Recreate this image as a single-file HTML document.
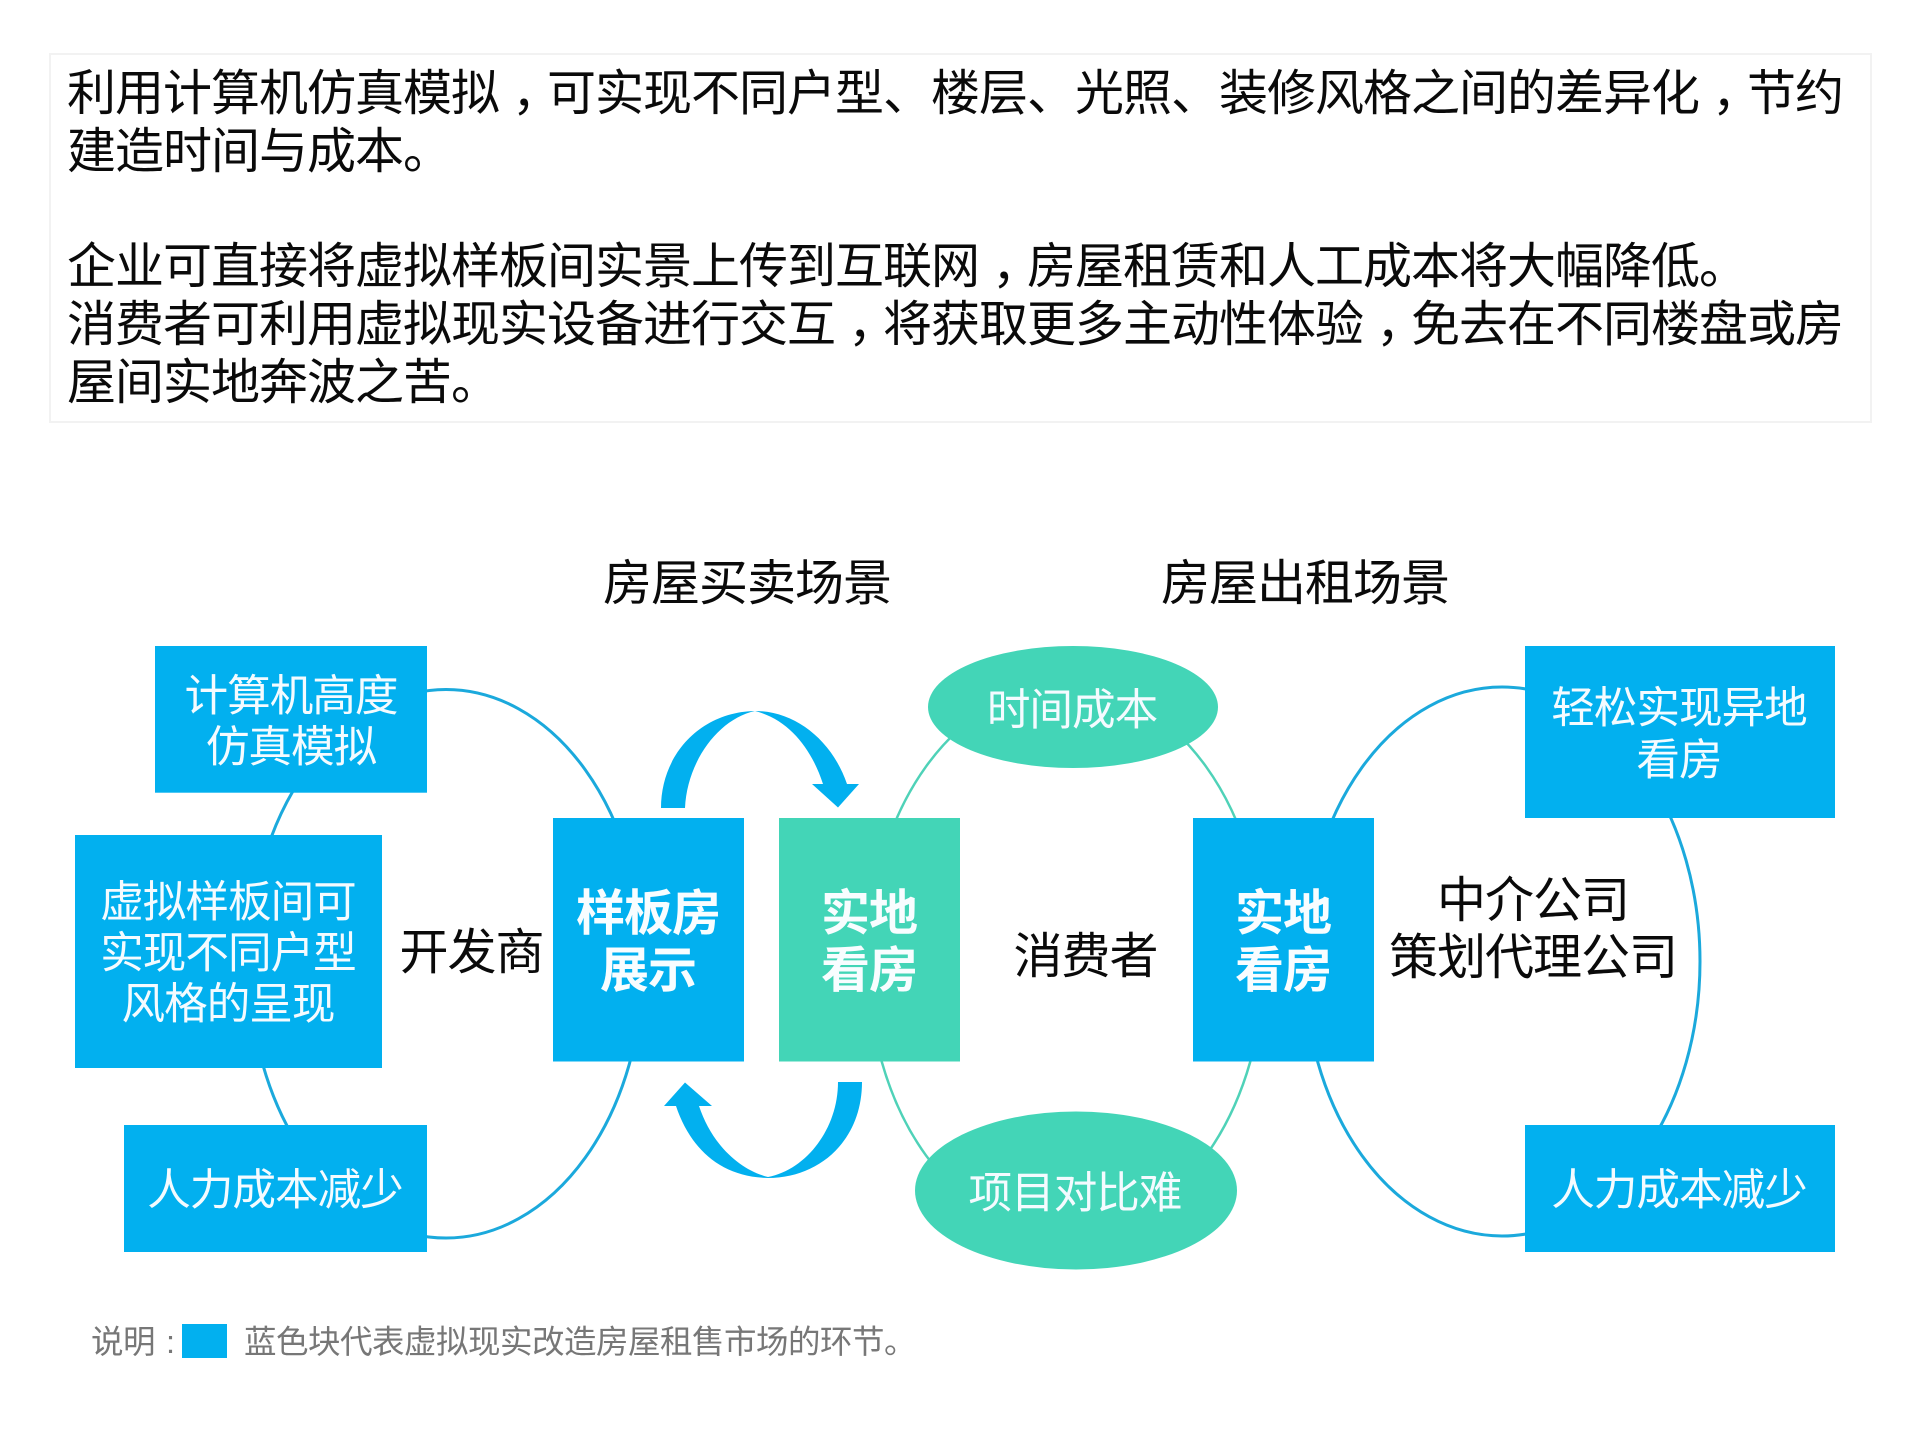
<!DOCTYPE html>
<html><head><meta charset="utf-8"><style>
html,body{margin:0;padding:0;background:#fff;width:1920px;height:1440px;overflow:hidden}
svg{display:block}
text{font-family:"Liberation Sans","Noto Sans CJK SC",sans-serif}
.t{font-size:49px;letter-spacing:-1px;fill:#0a0a0a}
.w{font-size:43.6px;letter-spacing:-1px;fill:#f4fbff;text-anchor:middle}
.b{font-size:49px;letter-spacing:-1px;fill:#f8fdff;font-weight:700;text-anchor:middle}
.k{font-size:49px;letter-spacing:-1px;fill:#0a0a0a;text-anchor:middle}
.g{font-size:32.5px;letter-spacing:-.5px;fill:#777}
</style></head><body>
<svg width="1920" height="1440" viewBox="0 0 1920 1440" xmlns="http://www.w3.org/2000/svg">
<rect x="0" y="0" width="1920" height="1440" fill="#fff"/>
<rect x="50" y="54" width="1821" height="368" fill="#fff" stroke="#f2f2f2" stroke-width="2"/>
<text class="t" y="110"><tspan x="67">利用计算机仿真模拟</tspan><tspan x="512">，</tspan><tspan x="547">可实现不同户型、楼层、光照、装修风格之间的差异化</tspan><tspan x="1712">，</tspan><tspan x="1747">节约</tspan></text>
<text class="t" x="67" y="168">建造时间与成本。</text>
<text class="t" y="283"><tspan x="67">企业可直接将虚拟样板间实景上传到互联网</tspan><tspan x="992">，</tspan><tspan x="1027">房屋租赁和人工成本将大幅降低。</tspan></text>
<text class="t" y="341"><tspan x="67">消费者可利用虚拟现实设备进行交互</tspan><tspan x="848">，</tspan><tspan x="883">将获取更多主动性体验</tspan><tspan x="1376">，</tspan><tspan x="1411">免去在不同楼盘或房</tspan></text>
<text class="t" x="67" y="399">屋间实地奔波之苦。</text>

<text class="t" x="603" y="600">房屋买卖场景</text>
<text class="t" x="1161" y="600">房屋出租场景</text>

<ellipse cx="446" cy="963.750" rx="197" ry="274.250" fill="none" stroke="#1ba9dc" stroke-width="3"/>
<ellipse cx="1502" cy="961.500" rx="198" ry="274.500" fill="none" stroke="#1ba9dc" stroke-width="3"/>
<ellipse cx="1066" cy="961" rx="198" ry="275" fill="none" stroke="#4fd2b8" stroke-width="2.500"/>

<path d="M661 808 C661 755 700 712 755 711 C795 711 832 740 847 784 L859 784 L838 807.500 L812 784 L823 784 C812 750 790 720 755 711 C718 719 687 762 685 808 Z" fill="#02b0ef"/>
<path d="M862 1082 C862 1140 820 1178 768 1178 C720 1177 690 1148 676 1106 L664 1106 L685 1082.500 L712 1106 L699 1106 C712 1145 740 1170 768 1177 C805 1170 838 1130 838 1082 Z" fill="#02b0ef"/>

<rect x="155" y="646" width="272" height="146.700" fill="#02b0ef"/>
<rect x="75" y="835" width="307" height="233" fill="#02b0ef"/>
<rect x="124" y="1125" width="303" height="127" fill="#02b0ef"/>
<rect x="553" y="818" width="191" height="243.500" fill="#02b0ef"/>
<rect x="779" y="818" width="181" height="243.500" fill="#43d5b7"/>
<rect x="1193" y="818" width="181" height="243.500" fill="#02b0ef"/>
<rect x="1525" y="646" width="310" height="172" fill="#02b0ef"/>
<rect x="1525" y="1125" width="310" height="127" fill="#02b0ef"/>
<ellipse cx="1073" cy="707" rx="145" ry="61" fill="#43d5b7"/>
<ellipse cx="1076" cy="1190.500" rx="161" ry="79" fill="#43d5b7"/>

<text class="w" x="291" y="711">计算机高度</text>
<text class="w" x="291" y="762">仿真模拟</text>
<text class="w" x="228" y="917">虚拟样板间可</text>
<text class="w" x="228" y="968">实现不同户型</text>
<text class="w" x="228" y="1019">风格的呈现</text>
<text class="w" x="275" y="1205">人力成本减少</text>
<text class="k" x="471.500" y="969">开发商</text>
<text class="b" x="648" y="930">样板房</text>
<text class="b" x="648" y="987">展示</text>
<text class="b" x="869" y="930">实地</text>
<text class="b" x="869" y="987">看房</text>
<text class="w" x="1072" y="725">时间成本</text>
<text class="w" x="1075" y="1208">项目对比难</text>
<text class="k" x="1085.500" y="973">消费者</text>
<text class="b" x="1283" y="930">实地</text>
<text class="b" x="1283" y="987">看房</text>
<text class="k" x="1533" y="917">中介公司</text>
<text class="k" x="1533" y="974">策划代理公司</text>
<text class="w" x="1679" y="723">轻松实现异地</text>
<text class="w" x="1679" y="775">看房</text>
<text class="w" x="1679" y="1205">人力成本减少</text>

<text class="g" x="91" y="1353">说明</text>
<text class="g" x="166" y="1353">:</text>
<rect x="182" y="1324" width="45" height="34" fill="#02b0ef"/>
<text class="g" x="244" y="1353">蓝色块代表虚拟现实改造房屋租售市场的环节。</text>
</svg>
</body></html>
